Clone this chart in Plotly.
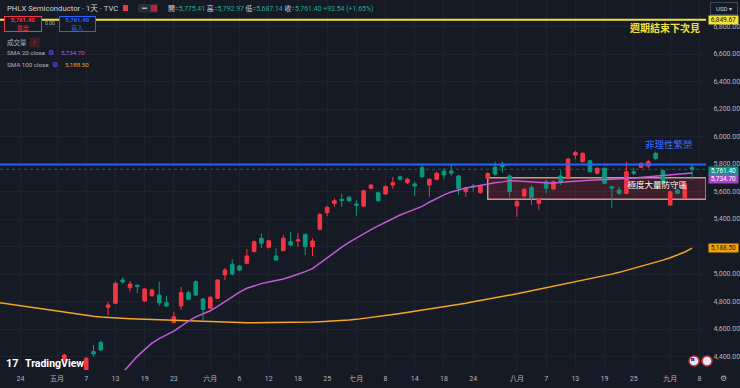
import plotly.graph_objects as go
import pandas as pd

# ---------------- data ----------------
holidays = ["2025-05-26", "2025-06-19", "2025-07-04", "2025-09-01"]
dates = [d.strftime("%Y-%m-%d") for d in pd.bdate_range("2025-04-21", "2025-09-05")
         if d.strftime("%Y-%m-%d") not in holidays]

open_ = [
    None, None, None, None, None, None, None, None, None,
    4375, None, None, 4290, 4435, 4503,
    4758, 4787, 4956, 4900, 4918,
    4804, 4842, 4847, 4791, 4646,
    4767, 4864, 4944, 4818,
    4751, 4823, 4993, 5071, 5058,
    5078, 5164, 5260, 5194, 5131,
    5170, 5235, 5240, 5288,
    5199, 5325, 5446, 5514, 5543,
    5558, 5509, 5494, 5623,
    5591, 5582, 5647, 5708, 5664,
    5655, 5773, 5647, 5689, 5749,
    5749, 5713, 5599, 5640, 5591,
    5696, 5776, 5800, 5713, 5495,
    5567, 5628, 5514, 5671, 5618,
    5713, 5696, 5865, 5817, 5824,
    5732, 5769, 5635, 5611, 5587,
    5744, 5776, 5785, 5878, 5751,
    5502, 5611, 5551, 5775.41,
]
high_ = [
    None, None, None, None, None, None, None, None, None,
    4420, None, None, 4395, 4484, 4515,
    4798, 4945, 4976, 4949, 4925,
    4898, 4893, 4944, 4840, 4724,
    4906, 4880, 4955, 4825,
    4840, 4962, 5045, 5107, 5065,
    5180, 5245, 5296, 5250, 5187,
    5284, 5308, 5296, 5296,
    5260, 5440, 5495, 5550, 5585,
    5570, 5538, 5612, 5655,
    5600, 5645, 5705, 5716, 5700,
    5672, 5785, 5695, 5745, 5769,
    5793, 5720, 5636, 5655, 5645,
    5740, 5817, 5817, 5725, 5538,
    5625, 5647, 5550, 5689, 5680,
    5756, 5845, 5897, 5885, 5830,
    5775, 5775, 5640, 5635, 5817,
    5769, 5812, 5830, 5889, 5760,
    5605, 5620, 5668, 5792.97,
]
low_ = [
    None, None, None, None, None, None, None, None, None,
    4365, None, None, 4270, 4399, 4440,
    4700, 4780, 4927, 4871, 4862,
    4795, 4835, 4767, 4760, 4642,
    4738, 4810, 4840, 4665,
    4745, 4818, 4956, 4990, 5020,
    5070, 5155, 5189, 5185, 5095,
    5165, 5199, 5199, 5138,
    5131, 5318, 5420, 5490, 5489,
    5525, 5422, 5488, 5615,
    5525, 5575, 5620, 5680, 5655,
    5567, 5700, 5562, 5680, 5689,
    5715, 5575, 5562, 5600, 5585,
    5689, 5713, 5737, 5558, 5417,
    5555, 5502, 5465, 5587, 5610,
    5647, 5689, 5834, 5810, 5738,
    5725, 5652, 5478, 5575, 5580,
    5720, 5770, 5769, 5829, 5652,
    5495, 5580, 5545, 5687.14,
]
close_ = [
    None, None, None, None, None, None, None, None, None,
    4411, None, None, 4387, 4418, 4447,
    4775, 4932, 4942, 4927, 4908,
    4891, 4884, 4791, 4767, 4689,
    4864, 4816, 4847, 4743,
    4831, 4956, 5029, 5000, 5029,
    5131, 5235, 5223, 5242, 5102,
    5260, 5211, 5248, 5199,
    5240, 5434, 5485, 5533, 5533,
    5533, 5500, 5606, 5647,
    5533, 5636, 5664, 5689, 5689,
    5640, 5708, 5689, 5733, 5720,
    5733, 5623, 5628, 5636, 5636,
    5732, 5727, 5780, 5599, 5526,
    5616, 5558, 5543, 5623, 5671,
    5664, 5836, 5885, 5878, 5744,
    5769, 5660, 5623, 5587, 5744,
    5732, 5805, 5817, 5841, 5660,
    5598, 5587, 5660, 5761.40,
]
sma20 = [None] * 16 + [
    4225, 4283, 4342, 4401, 4450,
    4497, 4530, 4556, 4585, 4620,
    4658, 4688, 4710, 4733, 4765,
    4800, 4835, 4868, 4896, 4914,
    4930, 4942, 4951, 4963, 4980,
    4996, 5017, 5039, 5078, 5121,
    5160, 5195, 5230, 5262, 5292,
    5323, 5350, 5377, 5402, 5429,
    5450, 5472, 5492, 5522, 5550,
    5575, 5597, 5613, 5625, 5635,
    5645, 5656, 5663, 5670, 5679,
    5676, 5672, 5670, 5666, 5661,
    5660, 5668, 5673, 5677, 5679,
    5681, 5683, 5685, 5687, 5689,
    5694, 5699, 5703, 5707, 5711,
    5714, 5719, 5724, 5729, 5734.70,
]
sma100 = [
    4793, 4785, 4776, 4768, 4761,
    4753, 4745, 4737, 4728, 4719,
    4711, 4704, 4698, 4692, 4687,
    4683, 4680, 4677, 4675, 4673,
    4671, 4669, 4667, 4665, 4663,
    4661, 4659, 4656, 4654, 4652,
    4650, 4648, 4647, 4647, 4646,
    4646, 4646, 4646, 4647, 4647,
    4648, 4649, 4650, 4651, 4653,
    4655, 4657, 4661, 4665, 4670,
    4676, 4682, 4690, 4697, 4705,
    4713, 4721, 4729, 4737, 4745,
    4752, 4760, 4769, 4778, 4788,
    4798, 4807, 4816, 4825, 4835,
    4845, 4856, 4867, 4878, 4887,
    4896, 4906, 4917, 4929, 4941,
    4953, 4965, 4975, 4987, 4999,
    5012, 5026, 5040, 5055, 5070,
    5086, 5101, 5118, 5138, 5160,
    5188.50,
]

tick_dates = ["2025-04-24", "2025-05-01", "2025-05-07", "2025-05-13", "2025-05-19",
              "2025-05-23", "2025-06-02", "2025-06-06", "2025-06-12", "2025-06-18",
              "2025-06-25", "2025-07-01", "2025-07-08", "2025-07-14", "2025-07-18",
              "2025-07-24", "2025-08-01", "2025-08-07", "2025-08-13", "2025-08-19",
              "2025-08-25", "2025-09-02", "2025-09-08"]
tick_labels = ["24", "五月", "7", "13", "19", "23", "六月", "6", "12", "18", "25",
               "七月", "8", "14", "18", "24", "八月", "7", "13", "19", "25", "九月", "8"]
price_ticks = [4400, 4600, 4800, 5000, 5200, 5400, 5600, 5800, 6000, 6200, 6400, 6600, 6800]
price_labels = ["4,400.00", "4,600.00", "4,800.00", "5,000.00", "", "5,400.00", "5,600.00",
                "5,800.00", "6,000.00", "6,200.00", "6,400.00", "6,600.00", "6,800.00"]

week_level = 6849.67
euphoria_level = 5797
zone_low, zone_high = 5543, 5700
zone_start = "2025-07-28"
last_price = 5761.40
sma20_last = 5734.70
sma100_last = 5188.50

# ---------------- style ----------------
BG = "#161a25"
GRID = "#1f2330"
RED = "#f23645"
GREEN = "#089981"
TXT = "#b2b5be"
FONT = "Roboto, 'Noto Sans CJK TC', sans-serif"
X_RANGE = ["2025-04-21 04:30", "2025-09-08 21:36"]
Y_RANGE = [4301.8, 6992.7]

W, H = 740, 388
ML, MR, MT, MB = 0, 34, 0, 18
PW, PH = W - ML - MR, H - MT - MB


def px(x):
    return (x - ML) / PW


def py(y):
    return 1 - (y - MT) / PH


fig = go.Figure()

# zone label (under candles)
fig.add_trace(go.Scatter(
    x=["2025-08-28 05:00"], y=[5640], mode="text", text=["極度大量防守區"],
    textfont=dict(size=8.5, color="#ffffff", family=FONT), hoverinfo="skip", showlegend=False))

fig.add_trace(go.Scatter(x=dates, y=sma100, mode="lines",
                         line=dict(color="#f5a623", width=1.5), hoverinfo="skip", showlegend=False))
fig.add_trace(go.Scatter(x=dates, y=sma20, mode="lines",
                         line=dict(color="#c25bd6", width=1.5), hoverinfo="skip", showlegend=False))

fig.add_trace(go.Candlestick(
    x=dates, open=open_, high=high_, low=low_, close=close_,
    increasing=dict(line=dict(color=RED, width=1), fillcolor=RED),
    decreasing=dict(line=dict(color=GREEN, width=1), fillcolor=GREEN),
    whiskerwidth=0, hoverinfo="skip", showlegend=False))

shapes = [
    dict(type="rect", xref="x", yref="y", x0=zone_start, x1=X_RANGE[1], y0=zone_low, y1=zone_high,
         fillcolor="rgba(242,54,69,0.17)", line=dict(color="#d4909a", width=1.5), layer="between"),
    dict(type="line", xref="paper", yref="y", x0=0, x1=1, y0=last_price, y1=last_price,
         line=dict(color="rgba(8,153,129,0.6)", width=1, dash="dot"), layer="between"),
    dict(type="line", xref="paper", yref="y", x0=0, x1=1, y0=week_level, y1=week_level,
         line=dict(color="#f2e33a", width=2), layer="above"),
    dict(type="line", xref="paper", yref="y", x0=0, x1=1, y0=euphoria_level, y1=euphoria_level,
         line=dict(color="#2962ff", width=2), layer="above"),
    # header icons
    dict(type="rect", xref="paper", yref="paper", x0=px(123), x1=px(128), y0=py(11), y1=py(5),
         fillcolor=RED, line=dict(width=0)),
    dict(type="rect", xref="paper", yref="paper", x0=px(138), x1=px(158), y0=py(12.5), y1=py(4),
         fillcolor="#2a2e39", line=dict(width=0)),
    dict(type="rect", xref="paper", yref="paper", x0=px(151), x1=px(157), y0=py(11.5), y1=py(5),
         fillcolor="#b2283a", line=dict(width=0)),
    dict(type="line", xref="paper", yref="paper", x0=px(142), x1=px(147), y0=py(8.2), y1=py(8.2),
         line=dict(color="#d1d4dc", width=1.2)),
    # event flags bottom right
    dict(type="circle", xref="paper", yref="paper", x0=px(689), x1=px(699), y0=py(366), y1=py(356),
         fillcolor="#e8e8f0", line=dict(color="#c62d3a", width=1.5)),
    dict(type="rect", xref="paper", yref="paper", x0=px(691), x1=px(694.5), y0=py(361), y1=py(358),
         fillcolor="#2f55c8", line=dict(width=0)),
    dict(type="circle", xref="paper", yref="paper", x0=px(702), x1=px(712), y0=py(366), y1=py(356),
         fillcolor="#e8e8f0", line=dict(color="#c62d3a", width=1.5)),
]

legend_val = "color:#22ab94"
ohlc_text = (f'開<span style="{legend_val}">=5,775.41</span> 高<span style="{legend_val}">=5,792.97</span> '
             f'低<span style="{legend_val}">=5,687.14</span> 收<span style="{legend_val}">=5,761.40</span> '
             f'<span style="{legend_val}">+93.54 (+1.65%)</span>')

ann = []


def label(x, y, text, size=7, color=TXT, xanchor="left", **kw):
    ann.append(dict(xref="paper", yref="paper", x=px(x), y=py(y), text=text, showarrow=False,
                    xanchor=xanchor, yanchor="middle", font=dict(size=size, color=color, family=FONT), **kw))


label(5, 8, "PHLX Semiconductor · 1天 · TVC", size=7.7, color="#d1d4dc")
label(166, 8, ohlc_text, size=6.9, color="#d1d4dc")
label(23, 24, "<b>5,761.40</b><br>賣出", size=6, color=RED, xanchor="center",
      bgcolor=BG, bordercolor=RED, borderwidth=1, borderpad=0, width=36, height=14)
label(49.5, 23, "0.00", size=5, color=TXT, xanchor="center")
label(77, 24, "<b>5,761.40</b><br>買入", size=6, color="#2962ff", xanchor="center",
      bgcolor=BG, bordercolor="#2962ff", borderwidth=1, borderpad=0, width=35, height=14)
label(5, 42.5, "成交量", size=6.5, color=TXT)
label(34, 42.5, "!", size=6, color=RED, xanchor="center", bgcolor="#3b1e26", width=7, height=7)
label(5, 53.5, "SMA 20 close", size=6.2, color=TXT)
label(51, 53.5, "⚙", size=7, color="#6f5cf0", xanchor="center")
label(59, 53.5, "5,734.70", size=6.2, color="#b760d5")
label(5, 65.5, "SMA 100 close", size=6.2, color=TXT)
label(55, 65.5, "⚙", size=7, color="#6f5cf0", xanchor="center")
label(63, 65.5, "5,188.50", size=6.2, color="#e8a030")
label(665, 28, "<b>週期結束下次見</b>", size=10, color="#f2e33a", xanchor="center")
label(669, 144, "非理性繁榮", size=9.5, color="#3a6dff", xanchor="center")
label(4, 363.5, "<b>17</b>", size=11, color="#ffffff")
label(23, 363.5, "<b>TradingView</b>", size=10.5, color="#ffffff")
label(723.5, 8, "USD ▾", size=6, color="#d1d4dc", xanchor="center",
      bgcolor=BG, bordercolor="#434651", borderwidth=1, borderpad=1, width=24, height=9)
label(723, 378.5, "⚙", size=8, color=TXT, xanchor="center")


def axis_box(value, text, bg, fg="#ffffff", yshift=0):
    ann.append(dict(xref="paper", yref="y", x=1, y=value, text=text, showarrow=False,
                    xanchor="left", yanchor="middle", xshift=2, yshift=yshift,
                    font=dict(size=6.5, color=fg, family=FONT), bgcolor=bg,
                    borderpad=0, width=29, height=8))


axis_box(week_level, "6,849.67", "#f2e33a", fg="#131722", yshift=-0.5)
axis_box(last_price, "5,761.40", GREEN, yshift=-1.3)
axis_box(sma20_last, "5,734.70", "#a845c4", yshift=-5.7)
axis_box(sma100_last, "5,188.50", "#f5a200", fg="#131722")

fig.update_layout(
    width=W, height=H,
    margin=dict(l=ML, r=MR, t=MT, b=MB),
    paper_bgcolor=BG, plot_bgcolor=BG,
    font=dict(family=FONT, color=TXT, size=7),
    showlegend=False,
    shapes=shapes,
    annotations=ann,
    xaxis=dict(
        type="date", range=X_RANGE,
        rangebreaks=[dict(bounds=["sat", "mon"]), dict(values=holidays)],
        tickmode="array", tickvals=tick_dates, ticktext=tick_labels,
        tickfont=dict(size=7, color=TXT),
        showgrid=True, gridcolor=GRID, gridwidth=1,
        zeroline=False, showline=False, ticks="outside", ticklen=2, tickcolor=BG,
        rangeslider=dict(visible=False), fixedrange=True,
    ),
    yaxis=dict(
        side="right", range=Y_RANGE,
        tickmode="array", tickvals=price_ticks, ticktext=price_labels,
        tickfont=dict(size=7, color=TXT),
        showgrid=True, gridcolor=GRID, gridwidth=1,
        zeroline=False, showline=False, ticks="outside", ticklen=5, tickcolor=BG,
        fixedrange=True,
    ),
)

fig.write_html(
    "out.html",
    config={"displayModeBar": False},
    post_script="document.body.style.margin='0';document.body.style.padding='0';"
                "document.body.style.background='" + BG + "';document.body.style.overflow='hidden';",
)
